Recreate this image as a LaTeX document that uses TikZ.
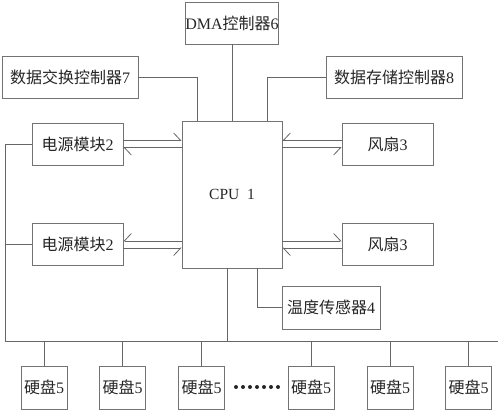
\documentclass[tikz,border=0pt]{standalone}
\usepackage{fontspec}
\setmainfont{Liberation Serif}
\newfontfamily\cjk{Noto Sans CJK SC}
\usetikzlibrary{arrows.meta}

\begin{document}
\begin{tikzpicture}
  [x=1pt, y=-1pt, line width=0.8pt]
  \tikzstyle{box} = [draw=black!55, inner sep=0pt, text=black!85, font=\fontsize{16pt}{18pt}\selectfont];
  \tikzstyle{wide_box}  = [box, minimum width=136pt, minimum height=42pt];
  \tikzstyle{mid_box}   = [box, minimum width=91pt, minimum height=42pt];
  \tikzstyle{disk_box}  = [box, minimum width=46pt, minimum height=43pt];
  \tikzstyle{wire} = [draw=black!60];
  \tikzstyle{hl} = [wire, -{Straight Barb[left, length=7pt, width=15pt]}];
  \tikzstyle{hr} = [wire, -{Straight Barb[right, length=7pt, width=15pt]}];

  \useasboundingbox (0,0) rectangle (500,413);

  \node[box, minimum width=90pt, minimum height=42pt] (dma) at (232,23) {DMA{\cjk 控制器}6};
  \node[wide_box] (swap)  at (70,77)  {{\cjk 数据交换控制器}7};
  \node[wide_box] (store) at (394,77) {{\cjk 数据存储控制器}8};

  \node[box, minimum width=100pt, minimum height=147pt, font=\fontsize{15.5pt}{18pt}\selectfont] (cpu) at (232,194.5) {CPU\ \ 1};

  \node[mid_box] (pwrA) at (77.5,144)  {{\cjk 电源模块}2};
  \node[mid_box] (pwrB) at (77.5,244.5) {{\cjk 电源模块}2};
  \node[mid_box] (fanA) at (387.5,144)  {{\cjk 风扇}3};
  \node[mid_box] (fanB) at (387.5,244.5) {{\cjk 风扇}3};

  \node[box, minimum width=98pt, minimum height=43pt] (temp) at (331,307.5) {{\cjk 温度传感器}4};

  \node[disk_box] (dk1) at (44,387.5)    {{\cjk 硬盘}5};
  \node[disk_box] (dk2) at (122.5,387.5) {{\cjk 硬盘}5};
  \node[disk_box] (dk3) at (201.5,387.5) {{\cjk 硬盘}5};
  \node[disk_box] (dk4) at (311,387.5)   {{\cjk 硬盘}5};
  \node[disk_box] (dk5) at (390,387.5)   {{\cjk 硬盘}5};
  \node[disk_box] (dk6) at (468.5,387.5) {{\cjk 硬盘}5};

  \coordinate (busL) at (5,341);
  \coordinate (busR) at (498,341);

  % controllers on top
  \draw[wire] (dma.south) -- (cpu.north);
  \draw[wire] (swap.east) -| ([xshift=-35pt]cpu.north);
  \draw[wire] (store.west) -| ([xshift=35pt]cpu.north);

  % power modules
  \draw[hl] ([yshift=3.5pt]pwrA.east) -- ([yshift=3.5pt]cpu.west |- pwrA.east);
  \draw[hl] ([yshift=-3.5pt]cpu.west |- pwrA.east) -- ([yshift=-3.5pt]pwrA.east);
  \draw[hr] ([yshift=3.5pt]cpu.west |- pwrB.east) -- ([yshift=3.5pt]pwrB.east);
  \draw[hr] ([yshift=-3.5pt]pwrB.east) -- ([yshift=-3.5pt]cpu.west |- pwrB.east);

  % fans
  \draw[hr] ([yshift=3.5pt]fanA.west) -- ([yshift=3.5pt]cpu.east |- fanA.west);
  \draw[hr] ([yshift=-3.5pt]cpu.east |- fanA.west) -- ([yshift=-3.5pt]fanA.west);
  \draw[hl] ([yshift=3.5pt]cpu.east |- fanB.west) -- ([yshift=3.5pt]fanB.west);
  \draw[hl] ([yshift=-3.5pt]fanB.west) -- ([yshift=-3.5pt]cpu.east |- fanB.west);

  % sensor and bus
  \draw[wire] ([xshift=25pt]cpu.south) |- (temp.west);
  \draw[wire] ([xshift=-5pt]cpu.south) -- ([xshift=-5pt]cpu.south |- busL);
  \draw[wire] (pwrA.west) -| (busL) -- (busR);
  \draw[wire] (pwrB.west) -- (pwrB.west -| busL);

  \foreach \d in {dk1,dk2,dk3,dk4,dk5,dk6}
    \draw[wire] (\d.north) -- (\d.north |- busL);

  \foreach \i in {0,...,6}
    \fill[black!85] (236+7*\i,387) circle (2pt);

\end{tikzpicture}
\end{document}
